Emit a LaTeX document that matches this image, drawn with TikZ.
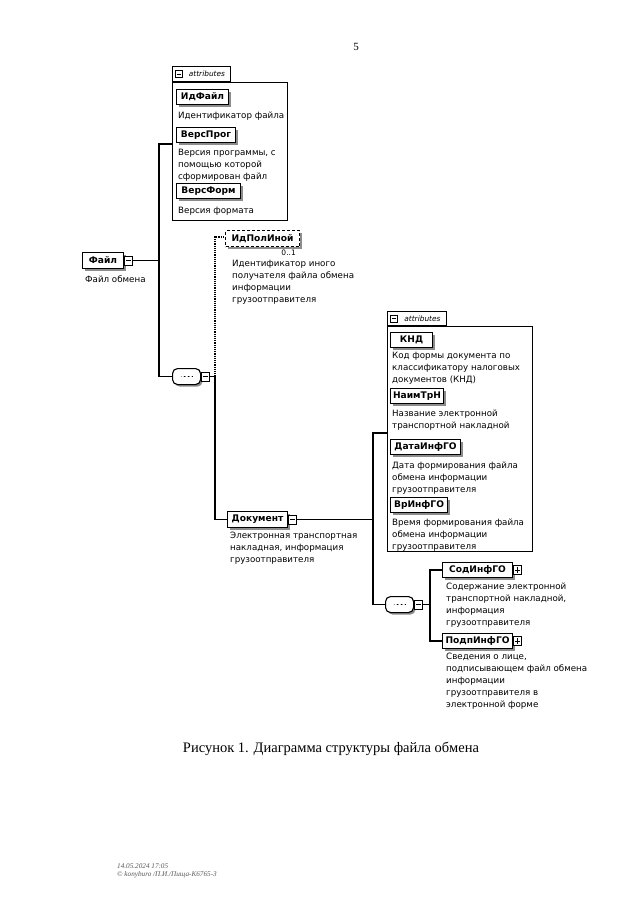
\documentclass[tikz,border=0pt]{standalone}
\usepackage{fontspec}
\setmainfont{Liberation Serif}
\newfontfamily\dg{DejaVu Sans}
\usetikzlibrary{shadows}
\tikzset{
  conn/.style={line width=1.2pt, black},
  optconn/.style={line width=1.2pt, black, densely dotted},
  shad/.style={drop shadow={shadow xshift=2pt, shadow yshift=-2pt, fill=black!45, opacity=1}},
  elem/.style={draw, line width=1.1pt, fill=white, shad, font=\dg\bfseries\fontsize{9.1}{10}\selectfont,
    minimum height=15pt, inner xsep=1.5pt, inner ysep=0pt, anchor=north west},
  optelem/.style={elem, densely dashed},
  desc/.style={font=\dg\fontsize{8.7}{12}\selectfont, align=left, anchor=north west, inner sep=0pt},
  attrbox/.style={draw, line width=0.9pt, fill=white, anchor=north west, inner sep=0pt},
  attrtab/.style={draw, line width=0.9pt, fill=white, anchor=south west, inner sep=0pt,
    font=\dg\itshape\fontsize{7.4}{8}\selectfont, text depth=0pt,
    path picture={\draw[line width=0.6pt] ([xshift=3pt,yshift=-3.5pt]path picture bounding box.west) rectangle ++(7pt,7pt);
      \draw[line width=0.6pt] ([xshift=4.5pt]path picture bounding box.west) -- ++(4pt,0pt);}},
  iconm/.style={draw, fill=white, line width=0.7pt, minimum width=8pt, minimum height=9pt, inner sep=0pt, anchor=west,
    path picture={\draw[line width=0.7pt] ([xshift=1.5pt]path picture bounding box.west) -- ([xshift=-1.5pt]path picture bounding box.east);}},
  iconp/.style={iconm,
    path picture={\draw[line width=0.7pt] ([xshift=1.5pt]path picture bounding box.west) -- ([xshift=-1.5pt]path picture bounding box.east);
      \draw[line width=0.7pt] ([yshift=-1.5pt]path picture bounding box.north) -- ([yshift=1.5pt]path picture bounding box.south);}},
  seqbox/.style={draw, line width=1.1pt, fill=white, shad, rounded corners=5pt, minimum width=28pt, minimum height=16pt,
    inner sep=0pt, anchor=north west,
    path picture={\draw[line width=0.7pt] ([xshift=-6pt]path picture bounding box.center) -- ([xshift=6pt]path picture bounding box.center);
      \foreach \d in {-4,0,4} \fill ([xshift=\d pt]path picture bounding box.center) circle (1.3pt);}}
}
\begin{document}
\begin{tikzpicture}[x=1pt,y=-1pt]
\useasboundingbox[fill=white] (0,0) rectangle (640,922);

% page number
\node[font=\fontsize{11}{13}\selectfont] (pg) at (356,47) {5};

% ---------- attributes of Файл ----------
\node[attrbox, minimum width=115pt, minimum height=138pt] (attr1) at (172,82) {};
\node[attrtab, minimum width=58pt, minimum height=15pt] (tab1) at (attr1.north west) {\hspace*{11pt}attributes};
\node[elem, minimum width=52pt] (idf) at (176,89) {ИдФайл};
\node[desc] (idfd) at (178,112) {Идентификатор файла};
\node[elem, minimum width=59pt] (vp) at (176,127) {ВерсПрог};
\node[desc] (vpd) at (178,149) {Версия программы, с\\помощью которой\\сформирован файл};
\node[elem, minimum width=64pt] (vf) at (176,183) {ВерсФорм};
\node[desc] (vfd) at (178,207) {Версия формата};

% ---------- root element ----------
\node[elem, minimum width=41pt, minimum height=16pt] (fajl) at (82,252) {Файл};
\node[iconm] (fajlm) at (fajl.east) {};
\node[desc] (fajld) at (85,276) {Файл обмена};

% sequence 1
\node[seqbox] (seq1) at (172,368) {};
\node[iconm] (seq1m) at (seq1.east) {};

% bus 1
\coordinate (b1) at (159,144);
\draw[conn] (fajlm.east) -- (fajlm.east -| b1);
\draw[conn] (attr1.west |- b1) -- (b1) -- (b1 |- seq1.west) -- (seq1.west);

% ---------- ИдПолИной (optional) ----------
\node[optelem, minimum width=74pt, minimum height=16pt] (idpol) at (225,230) {ИдПолИной};
\node[font=\dg\fontsize{7.5}{9}\selectfont, inner sep=0pt, anchor=north east] (card) at (296,250) {0..1};
\node[desc] (idpold) at (232,260) {Идентификатор иного\\получателя файла обмена\\информации\\грузоотправителя};

% ---------- Документ ----------
\node[elem, minimum width=60pt, minimum height=16pt] (dok) at (227,511) {Документ};
\node[iconm] (dokm) at (dok.east) {};
\node[desc] (dokd) at (230,532) {Электронная транспортная\\накладная, информация\\грузоотправителя};

% bus 2
\coordinate (b2) at (215,237);
\draw[conn] (seq1m.east) -- (seq1m.east -| b2);
\draw[optconn] (seq1m.east -| b2) -- (b2) -- (idpol.west |- b2);
\draw[conn] (seq1m.east -| b2) -- (b2 |- dok.west) -- (dok.west);

% ---------- attributes of Документ ----------
\node[attrbox, minimum width=145pt, minimum height=225pt] (attr2) at (387,326) {};
\node[attrtab, minimum width=59pt, minimum height=14pt] (tab2) at (attr2.north west) {\hspace*{11pt}attributes};
\node[elem, minimum width=42pt] (knd) at (390,332) {КНД};
\node[desc] (kndd) at (392,352) {Код формы документа по\\классификатору налоговых\\документов (КНД)};
\node[elem, minimum width=53pt] (naim) at (390,388) {НаимТрН};
\node[desc] (naimd) at (392,410) {Название электронной\\транспортной накладной};
\node[elem, minimum width=70pt] (data) at (390,439) {ДатаИнфГО};
\node[desc] (datad) at (392,462) {Дата формирования файла\\обмена информации\\грузоотправителя};
\node[elem, minimum width=57pt] (vr) at (390,497) {ВрИнфГО};
\node[desc] (vrd) at (392,519) {Время формирования файла\\обмена информации\\грузоотправителя};

% sequence 2
\node[seqbox] (seq2) at (385,596) {};
\node[iconm] (seq2m) at (seq2.east) {};

% bus 3
\coordinate (b3) at (373,433);
\draw[conn] (dokm.east) -- (dokm.east -| b3);
\draw[conn] (attr2.west |- b3) -- (b3) -- (b3 |- seq2.west) -- (seq2.west);

% ---------- children of sequence 2 ----------
\node[elem, minimum width=70pt] (sod) at (442,562) {СодИнфГО};
\node[iconp] (sodp) at (sod.east) {};
\node[desc] (sodd) at (446,583) {Содержание электронной\\транспортной накладной,\\информация\\грузоотправителя};
\node[elem, minimum width=70pt] (podp) at (442,633) {ПодпИнфГО};
\node[iconp] (podpp) at (podp.east) {};
\node[desc] (podpd) at (446,653) {Сведения о лице,\\подписывающем файл обмена\\информации\\грузоотправителя в\\электронной форме};

% bus 4
\coordinate (b4) at (430,604);
\draw[conn] (seq2m.east) -- (seq2m.east -| b4);
\draw[conn] (sod.west) -- (sod.west -| b4) -- (podp.west -| b4) -- (podp.west);

% caption and footer
\node[font=\fontsize{14.5}{17}\selectfont] (cap) at (331,749) {Рисунок 1. Диаграмма структуры файла обмена};
\node[font=\itshape\fontsize{7.2}{8.5}\selectfont, text=black!65, align=left, anchor=north west, inner sep=0pt] (foot) at (117,863) {14.05.2024 17:05\\© konyburo /П.И./Пища-К6765-3};
\end{tikzpicture}
\end{document}
